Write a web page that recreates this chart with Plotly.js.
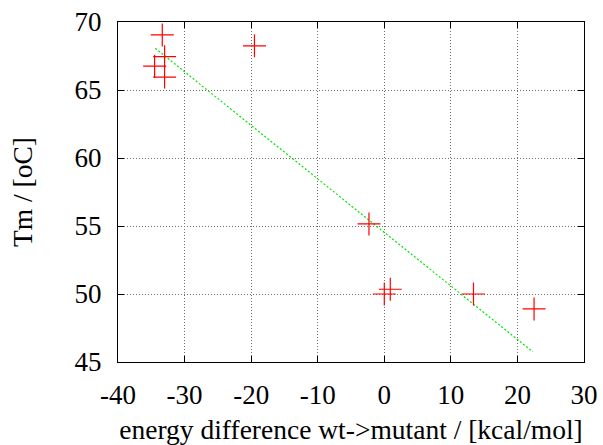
<!DOCTYPE html>
<html>
<head>
<meta charset="utf-8">
<script src="https://cdn.plot.ly/plotly-3.0.1.min.js"></script>
<style>html,body{margin:0;padding:0;background:#fff;}#chart{width:603px;height:445px;}</style>
</head>
<body>
<div id="chart"></div>
<script>
// Data points (energy difference vs Tm)
const energyDiff = [-33.35, -33.0, -34.5, -33.0, -19.5, -2.3, 0.0, 0.9, 13.4, 22.5];
const tm = [69.05, 67.45, 66.75, 65.95, 68.25, 55.15, 50.0, 50.35, 50.0, 48.9];
// Fitted line endpoints
const fitX = [-34.4, 22.3];
const fitY = [68.07, 45.75];
// Axis ticks
const xTicks = [-40, -30, -20, -10, 0, 10, 20, 30];
const yTicks = [45, 50, 55, 60, 65, 70];

const traces = [
  {
    x: fitX, y: fitY, mode: 'lines', type: 'scatter',
    line: {color: 'rgb(0,230,0)', width: 1.2, dash: '2px,2px'},
    hoverinfo: 'skip', showlegend: false
  },
  {
    x: energyDiff, y: tm, mode: 'markers', type: 'scatter',
    marker: {symbol: 'cross-thin-open', size: 16.4, color: 'rgb(255,0,0)',
             line: {color: 'rgb(255,0,0)', width: 1.2}},
    showlegend: false
  }
];

const layout = {
  width: 603, height: 445,
  margin: {l: 118, r: 19, t: 22, b: 82.5},
  paper_bgcolor: '#fff', plot_bgcolor: '#fff',
  font: {family: 'Liberation Serif', size: 27, color: '#000'},
  xaxis: {
    showline: true, linecolor: '#000', linewidth: 1.2, mirror: 'ticks',
    ticks: 'inside', ticklen: 6, tickcolor: '#000', tickwidth: 1,
    showgrid: true, gridcolor: 'rgb(110,110,110)', gridwidth: 1, griddash: '1px,2px',
    zeroline: false,
    tickfont: {family: 'Liberation Serif', size: 27, color: '#000'},
    range: [-40, 30], tickvals: xTicks, ticktext: xTicks.map(String),
    ticklabelstandoff: 8,
    title: {text: 'energy difference wt-&gt;mutant / [kcal/mol]',
            font: {family: 'Liberation Serif', size: 27.5, color: '#000'}, standoff: 12}
  },
  yaxis: {
    showline: true, linecolor: '#000', linewidth: 1.2, mirror: 'ticks',
    ticks: 'inside', ticklen: 6, tickcolor: '#000', tickwidth: 1,
    showgrid: true, gridcolor: 'rgb(110,110,110)', gridwidth: 1, griddash: '1px,2px',
    zeroline: false,
    tickfont: {family: 'Liberation Serif', size: 27, color: '#000'},
    range: [45, 70], tickvals: yTicks, ticktext: yTicks.map(String),
    ticklabelstandoff: 10,
    title: {text: 'Tm / [oC]',
            font: {family: 'Liberation Serif', size: 27.5, color: '#000'}, standoff: 33}
  }
};

Plotly.newPlot('chart', traces, layout, {displayModeBar: false, staticPlot: true});
</script>
</body>
</html>
